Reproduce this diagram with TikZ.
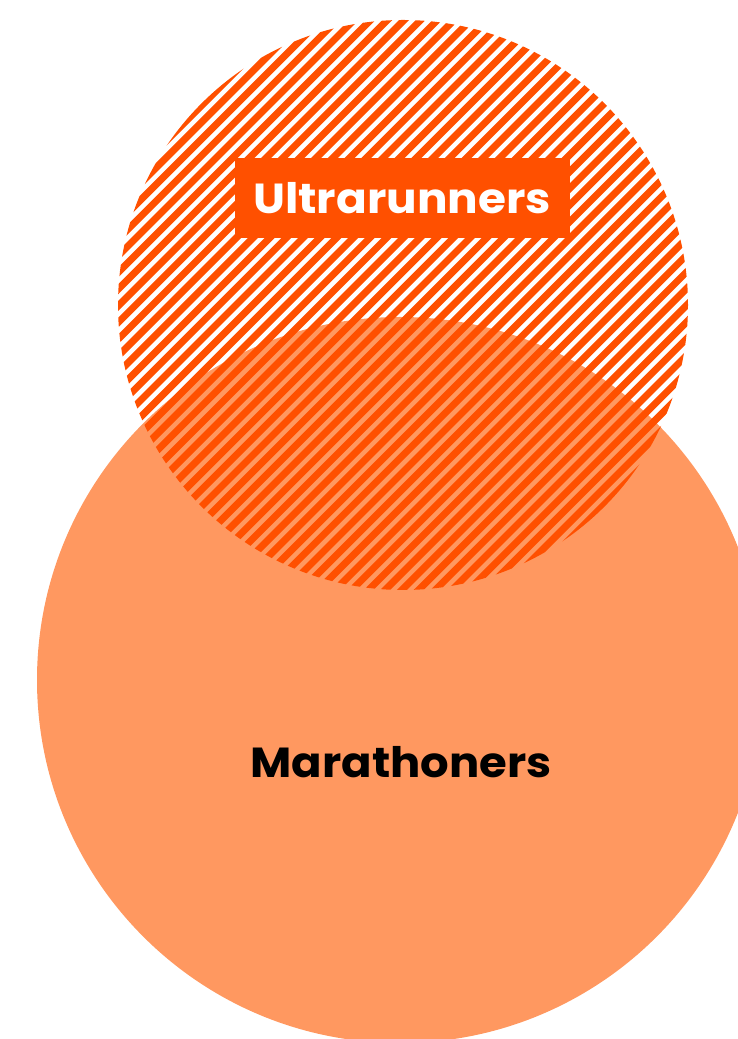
\documentclass[tikz,border=0pt]{standalone}
\usepackage{fontspec}
\newfontfamily\labelfont{Poppins}
\usetikzlibrary{positioning}
\definecolor{ultraorange}{HTML}{FF5000}
\definecolor{marathonorange}{HTML}{FF9860}
\tikzset{
  setcircle/.style={circle, inner sep=0pt, outer sep=0pt},
  stripe/.style={draw=ultraorange, line width=7pt},
  tag/.style={rectangle, fill=ultraorange, text=white, minimum width=335pt, minimum height=80pt, inner sep=0pt, font=\labelfont\bfseries\fontsize{42}{42}\selectfont},
  plain/.style={text=black, inner sep=0pt, font=\labelfont\bfseries\fontsize{42}{42}\selectfont}
}

\begin{document}
\begin{tikzpicture}[x=1pt, y=1pt]
\useasboundingbox (0,0) rectangle (738,1039);
% marathoners: big circle underneath
\node[setcircle, fill=marathonorange, minimum size=726pt] (mara) at (400,359) {};
% ultrarunners: hatched circle on top
\coordinate (ultra) at (403,734);
\begin{scope}
  \clip (ultra) circle (285pt);
  \foreach \k in {-45,...,45}
    \draw[stripe] (403+\k*16.7-320,734-320) -- ++(640,640);
\end{scope}
\node[tag] (ultralabel) at (402,841) {\scalebox{1.08}[1]{Ultrarunners}};
\node[plain] (maralabel) at (401,277) {\scalebox{1.07}[1]{Marathoners}};
\end{tikzpicture}
\end{document}
